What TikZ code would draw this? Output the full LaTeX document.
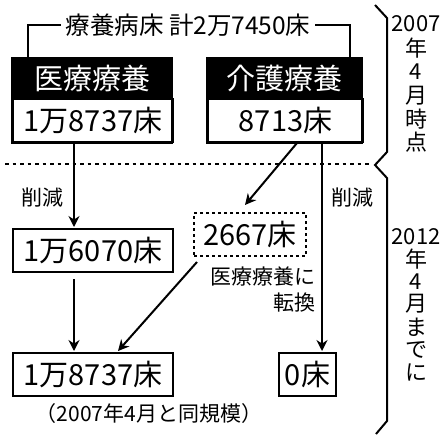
\documentclass[tikz,border=0pt]{standalone}
\usepackage{fontspec}
\setmainfont{Noto Sans CJK JP}
\newfontfamily\jp{Noto Sans CJK JP}
\usetikzlibrary{arrows.meta}
\begin{document}
\begin{tikzpicture}[x=1pt,y=-1pt,
  line width=2pt,
  arr/.style={-{Stealth[length=11pt,width=11pt]}, line width=2pt},
  bigtxt/.style={font=\jp\fontsize{29}{29}\selectfont, inner sep=0pt},
  midtxt/.style={font=\jp\fontsize{24.5}{24.5}\selectfont, inner sep=0pt},
  smltxt/.style={font=\jp\fontsize{21}{21}\selectfont, inner sep=0pt},
  vtxt/.style={font=\jp\fontsize{22}{22}\selectfont, inner sep=0pt},
  valbox/.style={draw, line width=2pt, minimum height=43pt, inner sep=0pt}
]
\useasboundingbox (0,0) rectangle (446,434);
% title
\node[midtxt] (title) at (188,25) {療養病床 計2万7450床};
% top boxes
\fill (12,58) rectangle (172,98);
\fill (207,58) rectangle (362,98);
\node[bigtxt, text=white] (h1) at (92,78) {医療療養};
\node[bigtxt, text=white] (h2) at (284.5,78) {介護療養};
\node[valbox, minimum width=160pt, anchor=north west] (v1) at (12,98) {};
\node[bigtxt] at (v1.center) {1万8737床};
\node[valbox, minimum width=155pt, anchor=north west] (v2) at (207,98) {};
\node[bigtxt] at (v2.center) {8713床};
\draw (12,58) rectangle (172,143);
\draw (207,58) rectangle (362,143);
% title bracket
\coordinate (tl) at (28,58);
\coordinate (tr) at (350,58);
\draw (tl) |- ([xshift=-4pt]title.west);
\draw (tr) |- ([xshift=4pt]title.east);
% dotted divider
\draw[line width=2.8pt, dash pattern=on 3.5pt off 4pt] (5,164) -- (372,164);
% middle boxes
\node[valbox, minimum width=160pt, anchor=north west] (m1) at (12,228) {};
\node[bigtxt] at (m1.center) {1万6070床};
\node[draw, dash pattern=on 3pt off 3pt, line width=2pt, minimum width=112pt, minimum height=43pt, anchor=north west, inner sep=0pt] (m2) at (193,212) {};
\node[bigtxt] at (m2.center) {2667床};
% bottom boxes
\node[valbox, minimum width=160pt, anchor=north west] (b1) at (12,352) {};
\node[bigtxt] at (b1.center) {1万8737床};
\node[valbox, minimum width=57pt, anchor=north west] (b2) at (278,352) {};
\node[bigtxt] at (b2.center) {0床};
\node[smltxt] (note) at (149,414) {（2007年4月と同規模）};
% arrows
\draw[arr] (74,143) -- (74,227);
\draw[arr] (74,279) -- (74,351);
\draw[arr] (297,143) -- (245,205);
\draw[arr] (197,262) -- (118,351);
\draw[arr] (322,143) -- (322,351);
% labels
\node[smltxt] (l1) at (42,198) {削減};
\node[smltxt] (l2) at (352,198) {削減};
\node[smltxt, anchor=east] (l3) at (316,277) {医療療養に};
\node[smltxt, anchor=east] (l4) at (316,303) {転換};
% right brackets
\draw[line width=2pt] (375,5) -- (387,18) -- (387,152) -- (375,165) -- (387,178) -- (387,421) -- (376,434);
% vertical texts
\node[vtxt] (y1) at (416,24) {2007};
\node[vtxt] at (416,48) {年};
\node[vtxt] at (416,72) {4};
\node[vtxt] at (416,96) {月};
\node[vtxt] at (416,119) {時};
\node[vtxt] at (416,142) {点};
\node[vtxt] (y2) at (416,237) {2012};
\node[vtxt] at (416,259) {年};
\node[vtxt] at (416,282) {4};
\node[vtxt] at (416,304) {月};
\node[vtxt] at (416,327) {ま};
\node[vtxt] at (416,350) {で};
\node[vtxt] at (416,372) {に};
\end{tikzpicture}
\end{document}
